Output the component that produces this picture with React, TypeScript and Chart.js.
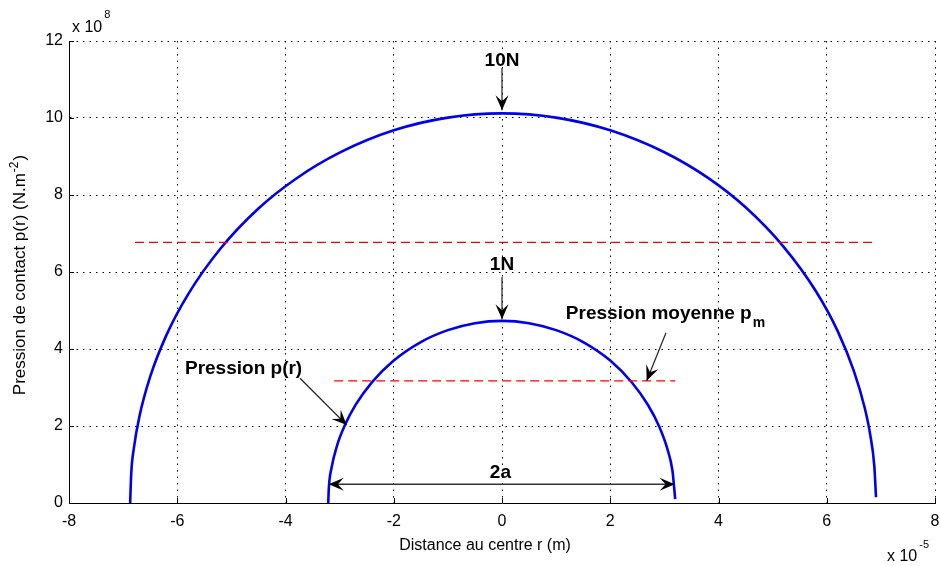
import { useEffect, useRef } from 'react';
import { Chart, registerables } from 'chart.js';

Chart.register(...registerables);

const FONT = '"Liberation Sans", Arial, Helvetica, sans-serif';

// Axis ticks (x in units of 1e-5 m, y in units of 1e8 N.m^-2)
const xTickValues = [-8, -6, -4, -2, 0, 2, 4, 6, 8];
const yTickValues = [0, 2, 4, 6, 8, 10, 12];

// 10N contact pressure curve
const r10N = [-6.87, -6.85, -6.8, -6.7, -6.5, -6.2, -5.8, -5.2, -4.5, -3.8, -3.0, -2.0, -1.0, 0, 1.0, 2.0, 3.0, 3.8, 4.5, 5.2, 5.8, 6.2, 6.5, 6.7, 6.8, 6.88, 6.91];
const p10N = [0, 0.77, 1.44, 2.24, 3.28, 4.36, 5.42, 6.61, 7.65, 8.43, 9.1, 9.68, 10.01, 10.12, 10.01, 9.68, 9.11, 8.45, 7.68, 6.66, 5.5, 4.47, 3.43, 2.48, 1.8, 0.94, 0.15];

// 1N contact pressure curve
const r1N = [-3.21, -3.2, -3.15, -3.05, -2.9, -2.7, -2.4, -2.0, -1.5, -1.0, -0.5, 0, 0.5, 1.0, 1.5, 2.0, 2.4, 2.7, 2.9, 3.05, 3.15, 3.2];
const p1N = [0, 0.37, 0.91, 1.48, 2.03, 2.56, 3.14, 3.7, 4.18, 4.49, 4.67, 4.73, 4.67, 4.49, 4.18, 3.7, 3.13, 2.54, 2.0, 1.43, 0.83, 0.1];

// Mean pressure lines
const rMean10N = [-6.78, 6.84];
const pMean10N = [6.77, 6.77];
const rMean1N = [-3.1, 3.2];
const pMean1N = [3.17, 3.17];

const pts = (xs: number[], ys: number[]) => xs.map((v, i) => ({ x: v, y: ys[i] }));

function arrowHead(ctx: CanvasRenderingContext2D, x1: number, y1: number, x2: number, y2: number) {
  const ang = Math.atan2(y2 - y1, x2 - x1);
  const L = 15, W = 6.5, N = 9;
  const cx = Math.cos(ang), sy = Math.sin(ang);
  const bx = x2 - L * cx, by = y2 - L * sy;
  ctx.beginPath();
  ctx.moveTo(x2, y2);
  ctx.lineTo(bx - W * sy, by + W * cx);
  ctx.lineTo(x2 - N * cx, y2 - N * sy);
  ctx.lineTo(bx + W * sy, by - W * cx);
  ctx.closePath();
  ctx.fill();
}

function arrow(ctx: CanvasRenderingContext2D, x1: number, y1: number, x2: number, y2: number, both = false) {
  ctx.beginPath();
  ctx.moveTo(x1, y1);
  ctx.lineTo(x2, y2);
  ctx.stroke();
  arrowHead(ctx, x1, y1, x2, y2);
  if (both) arrowHead(ctx, x2, y2, x1, y1);
}

const decor = {
  id: 'decor',
  afterDraw(chart: any) {
    const { ctx, chartArea: a, scales } = chart;
    const sx = scales.x, sy = scales.y;
    const px = (v: number) => sx.getPixelForValue(v);
    const py = (v: number) => sy.getPixelForValue(v);
    ctx.save();
    // inward tick marks
    ctx.strokeStyle = '#000';
    ctx.lineWidth = 1;
    ctx.setLineDash([]);
    ctx.beginPath();
    for (const v of xTickValues) {
      const X = Math.round(px(v)) + 0.5;
      ctx.moveTo(X, a.bottom);
      ctx.lineTo(X, a.bottom - 5);
    }
    for (const v of yTickValues) {
      const Y = Math.round(py(v)) + 0.5;
      ctx.moveTo(a.left, Y);
      ctx.lineTo(a.left + 5, Y);
    }
    ctx.stroke();

    ctx.fillStyle = '#000';
    ctx.textBaseline = 'alphabetic';
    // exponent labels
    ctx.textAlign = 'left';
    ctx.font = `16px ${FONT}`;
    ctx.fillText('x 10', a.left + 3, a.top - 9);
    let w = ctx.measureText('x 10').width;
    ctx.font = `11px ${FONT}`;
    ctx.fillText('8', a.left + 3 + w + 2, a.top - 23);

    ctx.font = `16px ${FONT}`;
    ctx.fillText('x 10', 887, a.bottom + 58);
    w = ctx.measureText('x 10').width;
    ctx.font = `11px ${FONT}`;
    ctx.fillText('-5', 887 + w + 2, a.bottom + 45);

    // axis titles
    ctx.font = `16px ${FONT}`;
    ctx.textAlign = 'center';
    ctx.fillText('Distance au centre r (m)', 485, a.bottom + 47);

    ctx.save();
    ctx.translate(25, 276);
    ctx.rotate(-Math.PI / 2);
    ctx.textAlign = 'left';
    const s1 = 'Pression de contact p(r) (N.m', s2 = '-2', s3 = ')';
    ctx.font = `17px ${FONT}`;
    const w1 = ctx.measureText(s1).width, w3 = ctx.measureText(s3).width;
    ctx.font = `12px ${FONT}`;
    const w2 = ctx.measureText(s2).width;
    const start = -(w1 + w2 + w3) / 2;
    ctx.font = `17px ${FONT}`;
    ctx.fillText(s1, start, 0);
    ctx.font = `12px ${FONT}`;
    ctx.fillText(s2, start + w1 + 1, -7);
    ctx.font = `17px ${FONT}`;
    ctx.fillText(s3, start + w1 + w2 + 2, 0);
    ctx.restore();

    // annotations
    ctx.font = `bold 19px ${FONT}`;
    ctx.textAlign = 'center';
    ctx.fillText('10N', px(0), py(11.35));
    ctx.fillText('1N', px(0), py(6.05));
    ctx.fillText('2a', px(-0.03), py(0.65));
    ctx.textAlign = 'left';
    ctx.fillText('Pression p(r)', px(-5.857), py(3.35));
    const pm = 'Pression moyenne p';
    ctx.fillText(pm, px(1.18), py(4.78));
    const wpm = ctx.measureText(pm).width;
    ctx.font = `bold 14px ${FONT}`;
    ctx.fillText('m', px(1.18) + wpm + 1, py(4.78) + 8);

    ctx.strokeStyle = '#222';
    ctx.fillStyle = '#000';
    ctx.lineWidth = 1.2;
    arrow(ctx, px(0), py(11.3), px(0), py(10.2));
    arrow(ctx, px(0), py(5.87), px(0), py(4.77));
    arrow(ctx, px(-3.732), py(3.239), px(-2.869), py(2.026));
    arrow(ctx, px(3.03), py(4.423), px(2.673), py(3.177));
    ctx.strokeStyle = '#333';
    ctx.lineWidth = 1.5;
    arrow(ctx, px(3.19), py(0.49), px(-3.2), py(0.49), true);
    ctx.restore();
  },
};

export default function App() {
  const ref = useRef<HTMLCanvasElement | null>(null);
  useEffect(() => {
    if (!ref.current) return;
    const tickFont = { family: FONT, size: 16 };
    const chart = new Chart(ref.current, {
      type: 'scatter',
      data: {
        datasets: [
          {
            data: pts(rMean10N, pMean10N),
            showLine: true,
            borderColor: '#ff0000',
            borderWidth: 1.2,
            borderDash: [9, 5],
            pointRadius: 0,
          },
          {
            data: pts(rMean1N, pMean1N),
            showLine: true,
            borderColor: '#ff0000',
            borderWidth: 1.2,
            borderDash: [9, 5],
            pointRadius: 0,
          },
          {
            data: pts(r10N, p10N),
            showLine: true,
            borderColor: '#0000ee',
            borderWidth: 2.6,
            pointRadius: 0,
            cubicInterpolationMode: 'monotone',
          },
          {
            data: pts(r1N, p1N),
            showLine: true,
            borderColor: '#0000ee',
            borderWidth: 2.6,
            pointRadius: 0,
            cubicInterpolationMode: 'monotone',
          },
        ],
      } as any,
      options: {
        animation: false,
        responsive: false,
        layout: { padding: { top: 41, right: 6, left: 0, bottom: 0 } },
        plugins: { legend: { display: false }, tooltip: { enabled: false } },
        scales: {
          x: {
            type: 'linear',
            min: -8,
            max: 8,
            afterBuildTicks: (s: any) => {
              s.ticks = xTickValues.map((v) => ({ value: v }));
            },
            afterFit: (s: any) => {
              s.height = 63;
              s.paddingLeft = 0;
              s.paddingRight = 0;
            },
            ticks: { font: tickFont, color: '#000', padding: 9, maxRotation: 0, autoSkip: false },
            grid: { color: '#000', lineWidth: 1, drawTicks: false },
            border: { display: true, color: '#000', width: 1, dash: [1.5, 5] },
          },
          y: {
            type: 'linear',
            min: 0,
            max: 12,
            afterBuildTicks: (s: any) => {
              s.ticks = yTickValues.map((v) => ({ value: v }));
            },
            afterFit: (s: any) => {
              s.width = 69;
              s.paddingTop = 0;
              s.paddingBottom = 0;
            },
            ticks: { font: tickFont, color: '#000', padding: 6, autoSkip: false },
            grid: { color: '#000', lineWidth: 1, drawTicks: false },
            border: { display: true, color: '#000', width: 1, dash: [1.5, 5] },
          },
        },
      } as any,
      plugins: [decor],
    });
    return () => chart.destroy();
  }, []);
  return (
    <div style={{ position: 'fixed', left: 0, top: 0, width: 941, height: 566, background: '#fff' }}>
      <canvas ref={ref} width={941} height={566} style={{ display: 'block', width: 941, height: 566 }} />
    </div>
  );
}
